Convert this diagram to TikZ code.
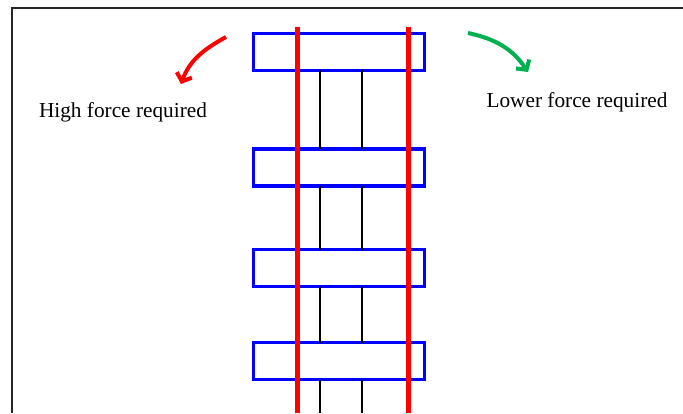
\documentclass[tikz,border=0pt]{standalone}
\usepackage{fontspec}
\setmainfont{Liberation Serif}
\usetikzlibrary{arrows.meta}
\definecolor{pblue}{RGB}{0,0,255}
\definecolor{pred}{RGB}{255,0,0}
\definecolor{pgreen}{RGB}{0,176,80}
\tikzset{
  plate/.style={draw=pblue, line width=3.5pt, fill=white, minimum width=171pt, minimum height=37pt, inner sep=0pt, outer sep=0pt},
  strand/.style={draw=black, line width=1.8pt},
  rail/.style={draw=pred, line width=5pt},
  bendarrow/.style={line width=4pt, -{Straight Barb[length=7pt,width=16pt]}},
  lbl/.style={font=\fontsize{21.3}{25}\selectfont, anchor=base, inner sep=0pt}
}
\begin{document}
\begin{tikzpicture}[x=1pt,y=1pt]
\useasboundingbox (0,0) rectangle (683,413);
% frame
\draw[line width=2.2pt, black!85] (12,0) -- (12,405) -- (683,405);
% coordinates
\coordinate (cL) at (320,0);
\coordinate (cR) at (362,0);
\coordinate (bot) at (0,0);
\coordinate (rLt) at (297,386);
\coordinate (rLb) at (297,0);
\coordinate (rRt) at (408,386);
\coordinate (rRb) at (408,0);
% plates
\node[plate] (p1) at (339,361) {};
\node[plate] (p2) at (339,245.5) {};
\node[plate] (p3) at (339,145) {};
\node[plate] (p4) at (339,52) {};
% strands
\foreach \c in {cL,cR}{
  \draw[strand] (p1.south -| \c) -- (p2.north -| \c);
  \draw[strand] (p2.south -| \c) -- (p3.north -| \c);
  \draw[strand] (p3.south -| \c) -- (p4.north -| \c);
  \draw[strand] (p4.south -| \c) -- (bot -| \c);
}
% rails
\draw[rail] (rLt) -- (rLb);
\draw[rail] (rRt) -- (rRb);
% arrows
\coordinate (ra) at (226,376);
\coordinate (rb) at (181,329);
\coordinate (ga) at (468,380);
\coordinate (gb) at (528,341);
\draw[bendarrow, pred] (ra) to[out=209, in=70] (rb);
\draw[bendarrow, pgreen] (ga) to[out=-12, in=124] (gb);
% labels
\node[lbl] (hf) at (123,295) {High force required};
\node[lbl] (lf) at (577,305) {Lower force required};
\end{tikzpicture}
\end{document}
